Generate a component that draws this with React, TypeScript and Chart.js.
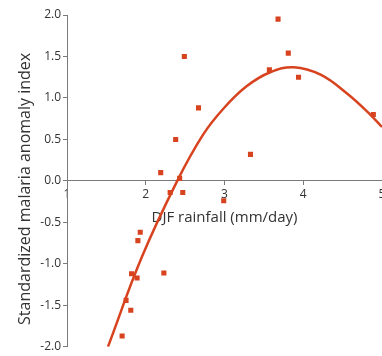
import React, { useEffect, useRef } from "react";
import { Chart, registerables } from "chart.js";
Chart.register(...registerables);

const rainfall = [2.49, 2.67, 2.38, 3.33, 2.19, 3.68, 3.81, 3.57, 3.94, 4.89, 2.43, 2.31, 2.47, 2.99, 1.93, 1.90, 1.82, 1.89, 2.23, 1.75, 1.81, 1.70];
const anomaly = [1.50, 0.88, 0.50, 0.32, 0.10, 1.95, 1.54, 1.34, 1.25, 0.80, 0.03, -0.14, -0.14, -0.24, -0.62, -0.72, -1.12, -1.17, -1.11, -1.44, -1.56, -1.87];
const fitX = [1.52, 1.945, 2.40, 2.73, 2.985, 3.28, 3.58, 3.88, 4.22, 4.56, 4.85, 5.0];
const fitY = [-2.0, -0.93, 0.0, 0.56, 0.87, 1.14, 1.31, 1.37, 1.28, 1.05, 0.80, 0.65];
const xTicks = [1, 2, 3, 4, 5];
const yTicks = [-2.0, -1.5, -1.0, -0.5, 0.0, 0.5, 1.0, 1.5, 2.0];
const xTitle = "DJF rainfall (mm/day)";
const yTitle = "Standardized malaria anomaly index";

const RED = "#d8431f";
const AXIS = "#7a7a7a";
const TEXT = "#333333";
const FONT = "'Open Sans', sans-serif";

const yTitlePlugin = {
  id: "yTitleText",
  afterDraw(chart: any) {
    const { ctx, chartArea } = chart;
    ctx.save();
    ctx.translate(25, (chartArea.top + chartArea.bottom) / 2 + 8);
    ctx.rotate(-Math.PI / 2);
    ctx.font = `16px ${FONT}`;
    ctx.fillStyle = TEXT;
    ctx.textAlign = "center";
    ctx.textBaseline = "middle";
    ctx.fillText(yTitle, 0, 0);
    ctx.restore();
  },
};

export default function App() {
  const ref = useRef<HTMLCanvasElement | null>(null);
  useEffect(() => {
    if (!ref.current) return;
    const chart = new Chart(ref.current, {
      type: "scatter",
      data: {
        datasets: [
          {
            type: "line",
            data: fitX.map((x, i) => ({ x, y: fitY[i] })),
            borderColor: RED,
            borderWidth: 2.5,
            pointRadius: 0,
            tension: 0.4,
            fill: false,
          },
          {
            data: rainfall.map((x, i) => ({ x, y: anomaly[i] })),
            backgroundColor: RED,
            borderWidth: 0,
            pointStyle: "rect",
            pointRadius: 3.6,
          },
        ],
      },
      plugins: [yTitlePlugin],
      options: {
        animation: false,
        responsive: true,
        maintainAspectRatio: false,
        layout: { autoPadding: false, padding: { top: 15, bottom: 6, left: 0, right: 0 } },
        plugins: { legend: { display: false }, tooltip: { enabled: false } },
        scales: {
          x: {
            type: "linear",
            position: { y: 0 },
            min: xTicks[0],
            max: xTicks[xTicks.length - 1],
            afterBuildTicks: (s: any) => {
              s.ticks = xTicks.map((v) => ({ value: v }));
            },
            afterFit: (s: any) => {
              s.paddingLeft = 0;
              s.paddingRight = 0;
            },
            ticks: {
              color: TEXT,
              font: { family: FONT, size: 12 },
              padding: 2,
              maxRotation: 0,
              callback: (v: any) => String(v),
            },
            grid: { drawOnChartArea: false, tickLength: 4, color: AXIS },
            border: { color: AXIS, width: 1 },
            title: {
              display: true,
              text: xTitle,
              color: TEXT,
              font: { family: FONT, size: 15 },
              padding: { top: 5, bottom: 0 },
            },
          },
          y: {
            type: "linear",
            min: yTicks[0],
            max: yTicks[yTicks.length - 1],
            afterBuildTicks: (s: any) => {
              s.ticks = yTicks.map((v) => ({ value: v }));
            },
            afterFit: (s: any) => {
              s.width = 67;
            },
            ticks: {
              color: TEXT,
              font: { family: FONT, size: 12 },
              padding: 2,
              callback: (v: any) => Number(v).toFixed(1),
            },
            grid: { drawOnChartArea: false, tickLength: 4, color: AXIS },
            border: { color: AXIS, width: 1 },
            title: { display: false },
          },
        },
      },
    } as any);
    return () => chart.destroy();
  }, []);
  return (
    <div style={{ position: "fixed", left: 0, top: 0, width: 382, height: 356, background: "#fff" }}>
      <canvas ref={ref} />
    </div>
  );
}
